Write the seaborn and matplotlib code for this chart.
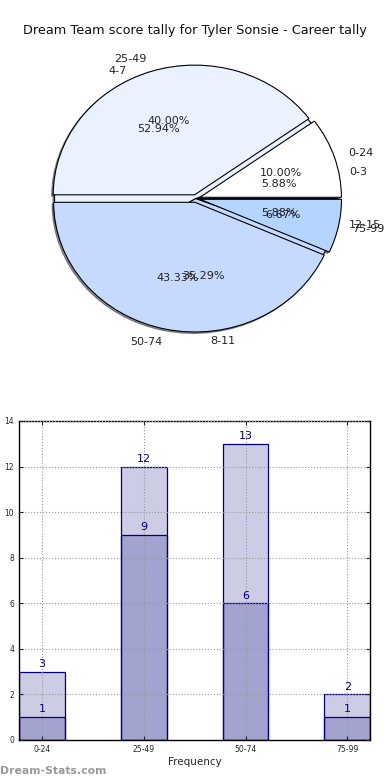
import matplotlib
matplotlib.use("Agg")
import matplotlib.pyplot as plt
import seaborn as sns
import numpy as np
import pandas as pd

# ---- data ----
score_labels = ["0-24", "25-49", "50-74", "75-99"]
score_counts = [3, 12, 13, 2]
tally_labels = ["0-3", "4-7", "8-11", "12-15"]
tally_counts = [1, 9, 6, 1]
pie_colors = ["#ffffff", "#eaf1ff", "#c6d9ff", "#b3d5ff"]
title = "Dream Team score tally for Tyler Sonsie - Career tally"

sns.set_style("white")
plt.rcParams["font.family"] = ["DejaVu Sans"]

fig = plt.figure(figsize=(3.9, 7.8), dpi=100)

# ---- pie ----
axp = fig.add_axes([0.0564, 0.541, 0.892, 0.409])
common = dict(colors=pie_colors, autopct="%1.2f%%",
              shadow=dict(ox=-0.008, oy=-0.008, shade=0.8),
              wedgeprops=dict(edgecolor="black", linewidth=0.8),
              textprops=dict(fontsize=8, color="#222222"), labeldistance=1.1)
axp.pie(tally_counts, labels=tally_labels, **common)
axp.pie(score_counts, labels=score_labels, explode=[0.03] * 4, **common)
axp.set_aspect("auto")
axp.set_xlim(-1.23, 1.23)
axp.set_ylim(-1.23, 1.23)
axp.axis("off")
fig.text(0.5, 0.961, title, ha="center", va="center", fontsize=9.3, color="#111111")

# ---- bars ----
axb = fig.add_axes([0.0487, 0.0513, 0.9513 - 0.0487 - 0.002, 0.4090])
df_s = pd.DataFrame({"range": score_labels, "count": score_counts})
df_t = pd.DataFrame({"range": score_labels, "count": tally_counts})
for d in (df_s, df_t):
    sns.barplot(data=d, x="range", y="count", ax=axb, width=0.45,
                color="navy", saturation=1, edgecolor="navy",
                linewidth=0.9, errorbar=None)
for p in axb.patches:
    p.set_alpha(None)
    p.set_facecolor((0, 0, 0.502, 0.2))
    p.set_edgecolor("navy")
    p.set_zorder(1)
for i, (s, t) in enumerate(zip(score_counts, tally_counts)):
    axb.text(i, s + 0.12, str(s), ha="center", va="bottom", color="navy", fontsize=8)
    axb.text(i, t + 0.12, str(t), ha="center", va="bottom", color="navy", fontsize=8)
axb.set_xlim(-0.225, 3.225)
axb.set_ylim(0, 14)
axb.set_yticks(range(0, 15, 2))
axb.grid(True, linestyle=":", color="#999999", linewidth=0.8)
axb.set_axisbelow(False)
for sp in axb.spines.values():
    sp.set_visible(True)
    sp.set_color("black")
    sp.set_linewidth(1.0)
axb.tick_params(axis="both", direction="in", labelsize=5.5, length=3,
                top=True, right=True, left=True, bottom=True)
axb.set_xlabel("Frequency", fontsize=7.5, labelpad=2)
axb.set_ylabel("")
fig.text(-0.012, 0.256, "Dream Team Tally", rotation=90, ha="center", va="center", fontsize=7.5)

fig.text(0.0, 0.012, "Dream-Stats.com", fontsize=7.8, color="#999999",
         fontweight="bold", ha="left", va="center")

fig.savefig("out.png", dpi=100)
